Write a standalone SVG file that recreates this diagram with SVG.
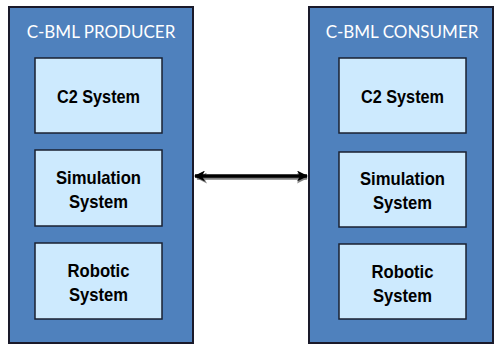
<svg xmlns="http://www.w3.org/2000/svg" width="495" height="345" viewBox="0 0 495 345">
<style>
.outer{fill:#4f81bd;stroke:#1a1a2a;stroke-width:2}
.inner{fill:#cdeafe;stroke:#1a2030;stroke-width:1.5}
.title{font-family:Lato,"Open Sans","Liberation Sans",sans-serif;font-size:17px;fill:#ffffff;text-anchor:middle}
.lbl{font-family:"Liberation Sans",Arial,sans-serif;font-weight:bold;font-size:19px;fill:#000;text-anchor:middle}
</style>
<defs>
<marker id="ah" markerWidth="11" markerHeight="11" refX="10" refY="5.5" orient="auto-start-reverse" markerUnits="userSpaceOnUse">
<path d="M0,0 L11,5.5 L0,11 L3,5.5 Z" fill="#000"/>
</marker>
<marker id="ahs" markerWidth="11" markerHeight="11" refX="10" refY="5.5" orient="auto-start-reverse" markerUnits="userSpaceOnUse">
<path d="M0,0 L11,5.5 L0,11 L3,5.5 Z" fill="#808080"/>
</marker>
</defs>
<rect width="495" height="345" fill="#fff"/>
<g id="producer">
<rect class="outer" x="9" y="7" width="184" height="336"/>
<text class="title" x="101" y="38">C-BML PRODUCER</text>
</g>
<g id="producer-c2">
<rect class="inner" x="35" y="58" width="127" height="75"/>
<text class="lbl" x="98.5" y="103" textLength="83" lengthAdjust="spacingAndGlyphs">C2 System</text>
</g>
<g id="producer-sim">
<rect class="inner" x="35" y="150" width="127" height="76"/>
<text class="lbl" x="98.5" y="184" textLength="85" lengthAdjust="spacingAndGlyphs">Simulation</text>
<text class="lbl" x="98.5" y="208" textLength="59" lengthAdjust="spacingAndGlyphs">System</text>
</g>
<g id="producer-robotic">
<rect class="inner" x="35" y="243" width="127" height="76"/>
<text class="lbl" x="98.5" y="277" textLength="62" lengthAdjust="spacingAndGlyphs">Robotic</text>
<text class="lbl" x="98.5" y="301" textLength="59" lengthAdjust="spacingAndGlyphs">System</text>
</g>
<g id="consumer">
<rect class="outer" x="309" y="7" width="184" height="336"/>
<text class="title" x="402" y="38">C-BML CONSUMER</text>
</g>
<g id="consumer-c2">
<rect class="inner" x="339" y="58" width="127" height="75"/>
<text class="lbl" x="402.5" y="103" textLength="83" lengthAdjust="spacingAndGlyphs">C2 System</text>
</g>
<g id="consumer-sim">
<rect class="inner" x="339" y="152" width="127" height="75"/>
<text class="lbl" x="402.5" y="185" textLength="85" lengthAdjust="spacingAndGlyphs">Simulation</text>
<text class="lbl" x="402.5" y="209" textLength="59" lengthAdjust="spacingAndGlyphs">System</text>
</g>
<g id="consumer-robotic">
<rect class="inner" x="339" y="244" width="127" height="75"/>
<text class="lbl" x="402.5" y="278" textLength="62" lengthAdjust="spacingAndGlyphs">Robotic</text>
<text class="lbl" x="402.5" y="302" textLength="59" lengthAdjust="spacingAndGlyphs">System</text>
</g>
<g id="connectors">
<line x1="197" y1="178" x2="307" y2="178" stroke="#808080" stroke-width="3.5" marker-start="url(#ahs)" marker-end="url(#ahs)"/>
<line x1="195" y1="176" x2="307" y2="176" stroke="#000" stroke-width="3.5" marker-start="url(#ah)" marker-end="url(#ah)"/>
</g>
</svg>
